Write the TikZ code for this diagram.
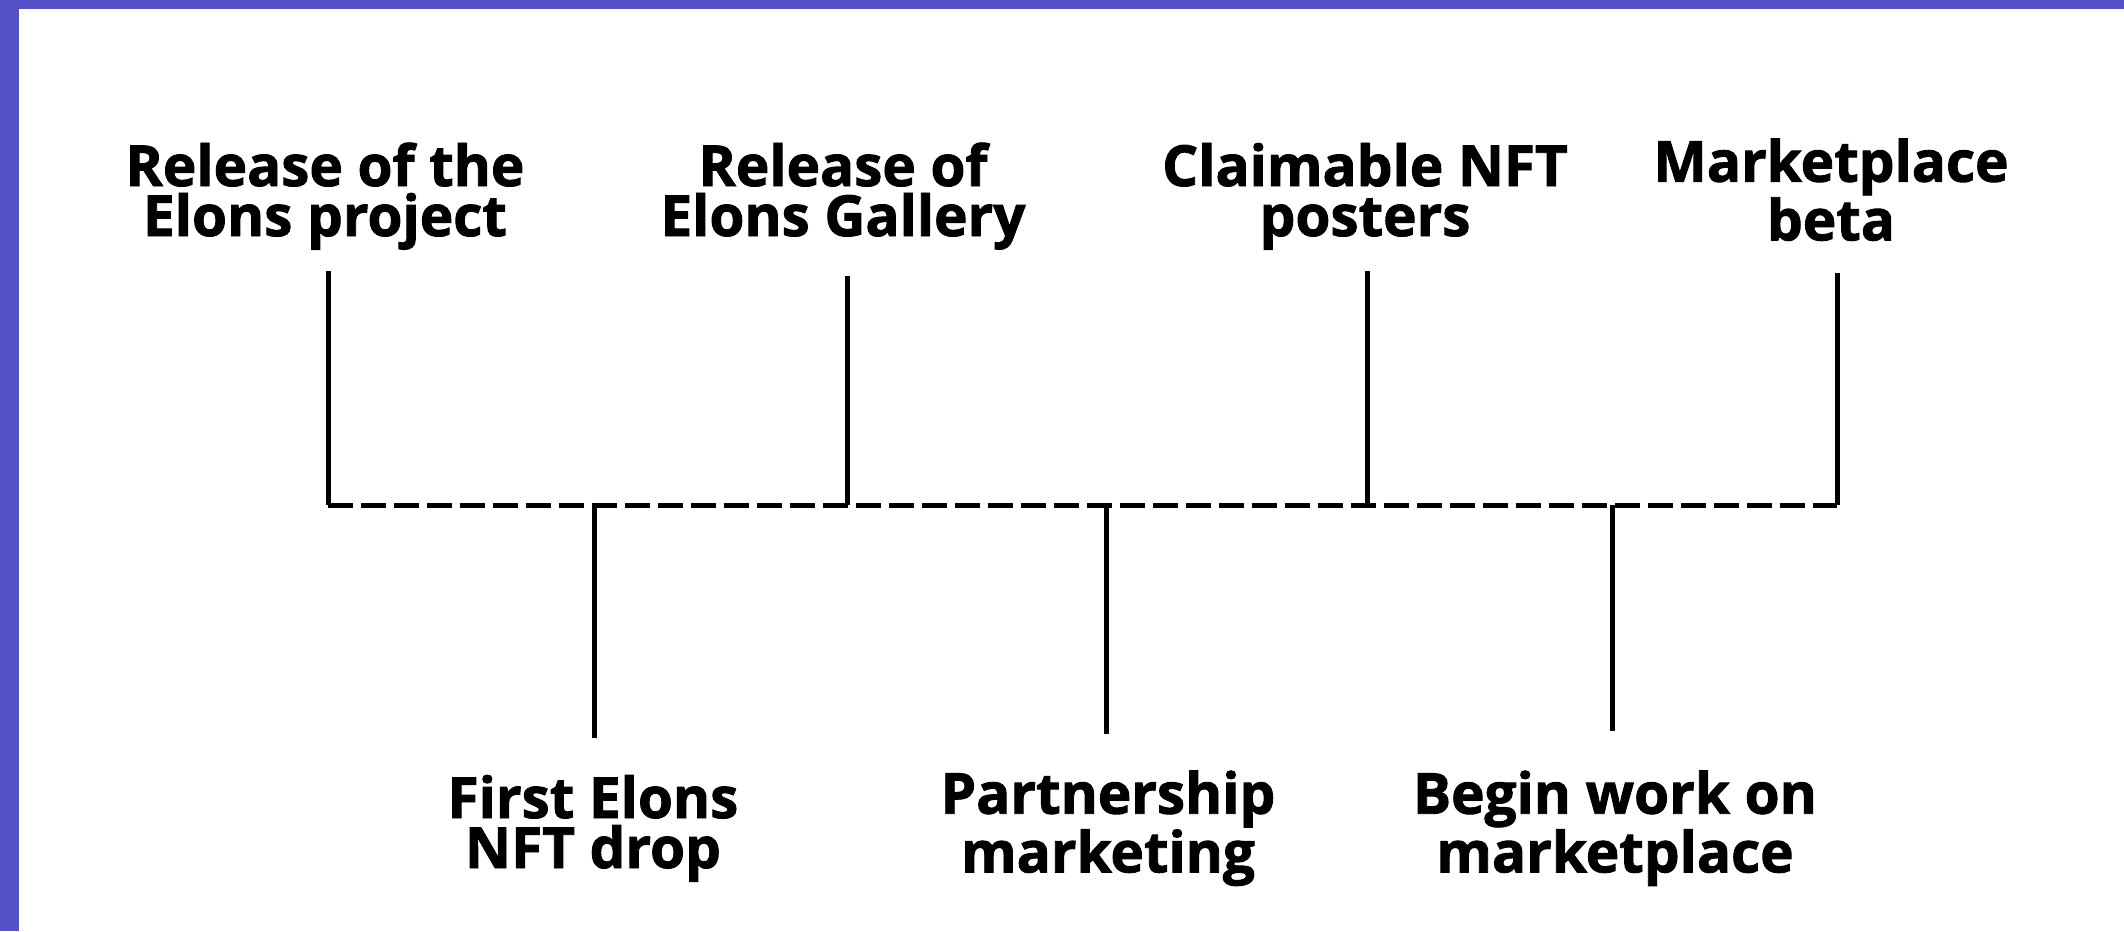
\documentclass[tikz,border=0pt]{standalone}
\usepackage{fontspec}
\setmainfont{Open Sans}[BoldFeatures={FakeBold=1.6}]
\definecolor{framepurple}{RGB}{84,80,199}
\newcommand\topstrut{\rule{0pt}{22pt}}
\newcommand\botstrut{\rule[-7pt]{0pt}{7pt}}
\begin{document}
\begin{tikzpicture}[x=0.5pt,y=-0.5pt,
  lbl/.style={align=center,font=\fontsize{28.3}{25}\selectfont\bfseries,inner sep=0pt},
  tick/.style={line width=2.5pt,black},
  dash line/.style={line width=2.5pt,black,dash pattern=on 12.5pt off 4pt}]
\useasboundingbox (0,0) rectangle (2124,931);
\fill[white] (0,0) rectangle (2124,931);
\fill[framepurple] (0,0) rectangle (2124,9);
\fill[framepurple] (0,0) rectangle (19,931);
% labels
\node[lbl] (t1) at (325,196) {\topstrut Release of the\\Elons project\botstrut};
\node[lbl] (t2) at (843,196) {\topstrut Release of\\Elons Gallery\botstrut};
\node[lbl] (t3) at (1365,196) {\topstrut Claimable NFT\\posters\botstrut};
\node[lbl] (t4) at (1831,196) {\topstrut Marketplace\\beta\botstrut};
\node[lbl] (b1) at (593,828) {\topstrut First Elons\\NFT drop\botstrut};
\node[lbl] (b2) at (1108,828) {\topstrut Partnership\\marketing\botstrut};
\node[lbl] (b3) at (1615,828) {\topstrut Begin work on\\marketplace\botstrut};
% timeline
\coordinate (L) at (328,505);
\coordinate (R) at (1837,505);
\coordinate (a1) at (328,271);  \coordinate (j1) at (328,505);
\coordinate (a2) at (847,276);  \coordinate (j2) at (847,505);
\coordinate (a3) at (1367,271); \coordinate (j3) at (1367,505);
\coordinate (a4) at (1837,273); \coordinate (j4) at (1837,505);
\coordinate (c1) at (594,738);  \coordinate (k1) at (594,505);
\coordinate (c2) at (1106,734); \coordinate (k2) at (1106,505);
\coordinate (c3) at (1612,731); \coordinate (k3) at (1612,505);
\draw[dash line] (L) -- (R);
\draw[tick] (a1) -- (j1);
\draw[tick] (a2) -- (j2);
\draw[tick] (a3) -- (j3);
\draw[tick] (a4) -- (j4);
\draw[tick] (k1) -- (c1);
\draw[tick] (k2) -- (c2);
\draw[tick] (k3) -- (c3);
\end{tikzpicture}
\end{document}
